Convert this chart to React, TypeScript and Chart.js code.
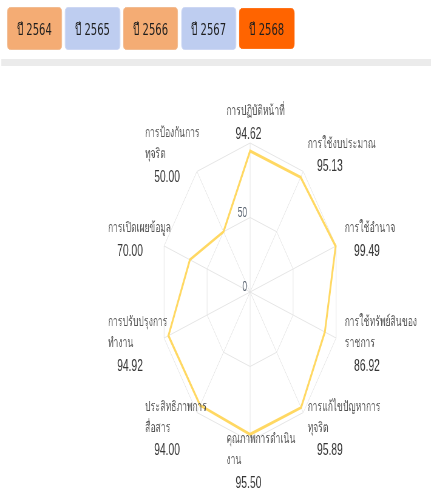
import React, { useEffect, useRef } from 'react';
import { Chart, registerables } from 'chart.js';

Chart.register(...registerables);

// ---- data ----
const years: string[] = ['ปี 2564', 'ปี 2565', 'ปี 2566', 'ปี 2567', 'ปี 2568'];
const categories: string[][] = [
  ['การปฏิบัติหน้าที่'],
  ['การใช้งบประมาณ'],
  ['การใช้อำนาจ'],
  ['การใช้ทรัพย์สินของ', 'ราชการ'],
  ['การแก้ไขปัญหาการ', 'ทุจริต'],
  ['คุณภาพการดำเนิน', 'งาน'],
  ['ประสิทธิภาพการ', 'สื่อสาร'],
  ['การปรับปรุงการ', 'ทำงาน'],
  ['การเปิดเผยข้อมูล'],
  ['การป้องกันการ', 'ทุจริต'],
];
const scores: number[] = [94.62, 95.13, 99.49, 86.92, 95.89, 95.5, 94.0, 94.92, 70.0, 50.0];
const tickValues: number[] = [0, 50];

// ---- layout (unscaled units; whole page squeezed horizontally) ----
const SX = 0.607;
const PAGE_W = 431;
const PAGE_H = 491;
const INNER_W = Math.round(PAGE_W / SX);
const FONT = "'Liberation Sans', 'Noto Sans', sans-serif";
const BTN_FONT = "'DejaVu Sans', sans-serif";
const btnColors = ['#F4AC74', '#BECDF0', '#F4AC74', '#BECDF0', '#FF6400'];
const btnBorders = ['#F0B68A', '#C9D5F2', '#F0B68A', '#C9D5F2', '#FF6400'];

const labelPlugin = {
  id: 'customLabels',
  afterDraw(chart: any) {
    const scale = chart.scales.r;
    const ctx = chart.ctx;
    const cx = scale.xCenter;
    const cy = scale.yCenter;
    ctx.save();
    // tick labels
    ctx.font = `14px ${FONT}`;
    ctx.fillStyle = '#56606e';
    ctx.textAlign = 'right';
    ctx.textBaseline = 'alphabetic';
    tickValues.forEach((v) => {
      const d = scale.getDistanceFromCenterForValue(v);
      ctx.fillText(String(v), cx - 5, cy - d - 1);
    });
    // point labels
    categories.forEach((lines, i) => {
      const a = scale.getIndexAngle(i);
      const s = Math.sin(a);
      const c = Math.cos(a);
      const bx = cx + s * (191 + 46 * Math.abs(c));
      const by = cy - c * 169;
      const span = 21 * (lines.length - 1) + 23;
      let y = by - span / 2;
      const left = bx - 38.7;
      ctx.textAlign = 'left';
      ctx.textBaseline = 'middle';
      ctx.font = `14px ${FONT}`;
      ctx.fillStyle = '#555555';
      lines.forEach((ln, k) => {
        ctx.fillText(ln, left, y + k * 21);
      });
      y += 21 * (lines.length - 1) + 23;
      ctx.font = `17px ${FONT}`;
      ctx.fillStyle = '#373737';
      ctx.fillText(scores[i].toFixed(2), left + 14.8, y);
    });
    ctx.restore();
  },
};

function RadarChart() {
  const ref = useRef<HTMLCanvasElement | null>(null);
  useEffect(() => {
    if (!ref.current) return;
    const chart = new Chart(ref.current, {
      type: 'radar',
      data: {
        labels: categories.map((l) => l.join(' ')),
        datasets: [
          {
            data: scores,
            borderColor: '#FFD862',
            backgroundColor: 'rgba(0,0,0,0)',
            borderWidth: 3,
            pointRadius: 0,
            pointHoverRadius: 0,
            fill: false,
            tension: 0,
          },
        ],
      },
      options: {
        animation: false,
        responsive: true,
        maintainAspectRatio: false,
        layout: { padding: { top: 68, bottom: 49, left: 262, right: INNER_W - 262 - 300 } },
        plugins: { legend: { display: false }, tooltip: { enabled: false } },
        scales: {
          r: {
            min: 0,
            max: 100,
            ticks: { stepSize: 50, display: false },
            grid: { color: '#e5e5e5', lineWidth: 1 },
            angleLines: { color: '#e5e5e5', lineWidth: 1 },
            pointLabels: { display: false },
          },
        },
      },
      plugins: [labelPlugin],
    });
    return () => chart.destroy();
  }, []);
  return (
    <div style={{ position: 'absolute', left: 0, top: 75, width: INNER_W, height: 416 }}>
      <canvas ref={ref} />
    </div>
  );
}

export default function App() {
  return (
    <div
      style={{
        position: 'fixed',
        left: 0,
        top: 0,
        width: PAGE_W,
        height: PAGE_H,
        overflow: 'hidden',
        background: '#ffffff',
      }}
    >
      <div
        style={{
          position: 'absolute',
          left: 0,
          top: 0,
          width: INNER_W,
          height: PAGE_H,
          transform: `scaleX(${SX})`,
          transformOrigin: '0 0',
        }}
      >
        {years.map((y, i) => (
          <div
            key={y}
            style={{
              position: 'absolute',
              top: i === 4 ? 8 : 7,
              left: 11.5 + i * 95.7,
              width: 90.6,
              height: i === 4 ? 41 : 43,
              boxSizing: 'border-box',
              background: btnColors[i],
              border: `1px solid ${btnBorders[i]}`,
              borderRadius: 5,
              display: 'flex',
              alignItems: 'center',
              justifyContent: 'center',
              font: `16.5px ${BTN_FONT}`,
              color: '#1e1e1e',
            }}
          >
            {y}
          </div>
        ))}
        <div
          style={{
            position: 'absolute',
            top: 59,
            left: 1.6,
            width: INNER_W,
            height: 7,
            background: '#EBEBEB',
          }}
        />
        <RadarChart />
      </div>
    </div>
  );
}
